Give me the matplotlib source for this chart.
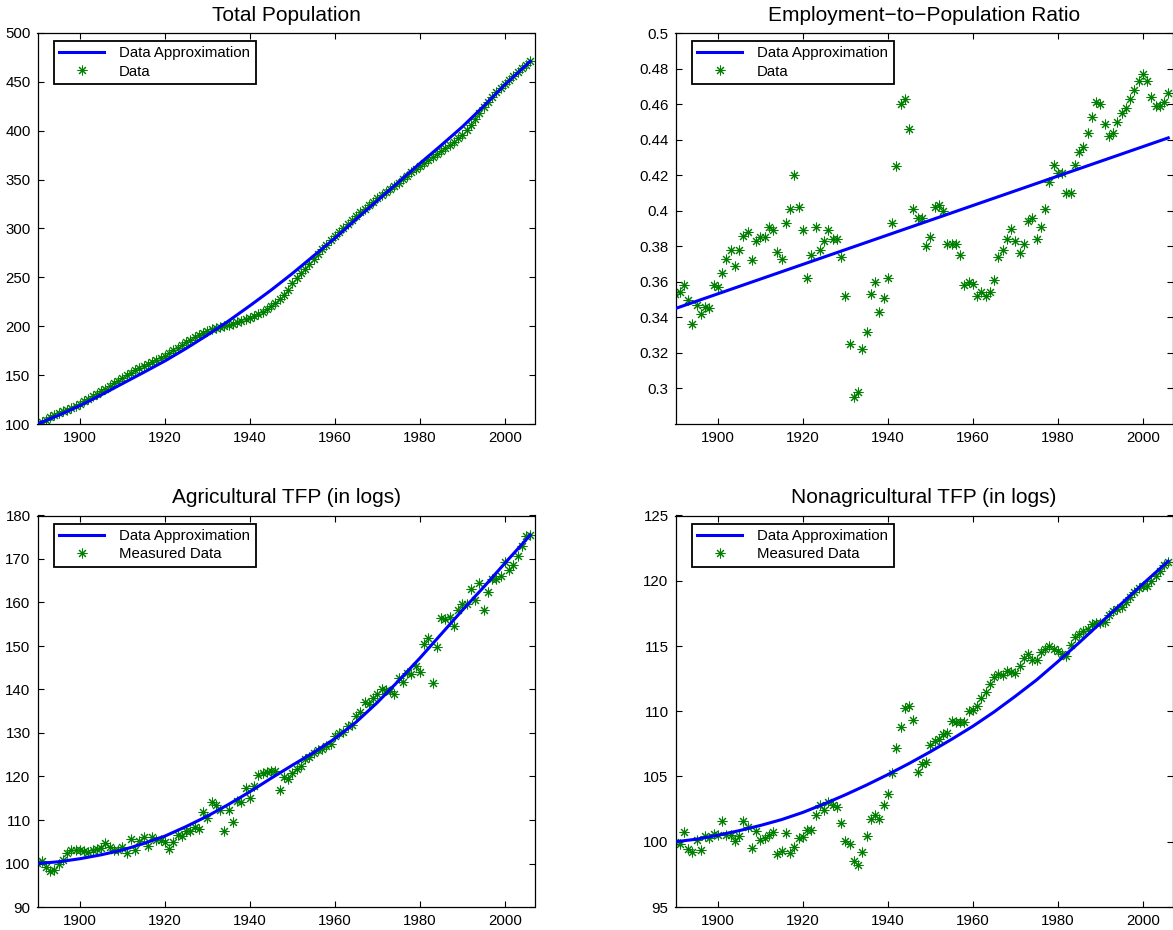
import numpy as np
import matplotlib
matplotlib.use("Agg")
import matplotlib.pyplot as plt
from matplotlib.lines import Line2D
from matplotlib.ticker import FormatStrFormatter

plt.rcParams['font.family'] = ['Liberation Sans', 'DejaVu Sans']

years = np.arange(1890, 2007)

# Total population (index, 1890 = 100)
pop_data = [
    100.0, 102.2, 104.6, 106.7, 108.7, 110.8, 112.9, 114.8, 116.8, 118.7,
    120.8, 123.2, 125.7, 128.3, 130.9, 133.6, 136.3, 139.0, 141.7, 144.4,
    147.0, 149.7, 152.3, 154.9, 157.4, 159.6, 161.6, 163.3, 165.1, 167.6,
    170.0, 172.6, 175.2, 178.0, 180.8, 183.6, 186.4, 189.0, 191.4, 193.6,
    195.6, 197.2, 198.5, 199.6, 200.5, 201.3, 202.2, 203.9, 205.6, 207.1,
    208.7, 210.3, 212.1, 214.5, 217.2, 220.5, 224.0, 227.8, 231.8, 237.0,
    244.0, 249.5, 254.0, 259.0, 264.0, 269.0, 274.0, 279.0, 283.5, 287.8,
    292.0, 296.3, 300.5, 304.8, 309.0, 313.0, 316.6, 320.4, 324.2, 327.6,
    330.8, 333.9, 337.0, 340.2, 343.5, 346.8, 350.2, 353.7, 357.3, 360.8,
    364.2, 367.3, 370.3, 373.2, 376.2, 379.2, 382.2, 385.5, 388.8, 392.2,
    395.7, 400.5, 406.1, 412.0, 418.0, 424.0, 429.9, 434.8, 439.5, 443.6,
    447.6, 451.8, 456.0, 460.0, 464.0, 467.7, 471.4,
]
pop_fit_years = [1890, 1895, 1900, 1905, 1910, 1915, 1920, 1925, 1930, 1935, 1940, 1945,
                 1950, 1955, 1960, 1965, 1970, 1975, 1980, 1985, 1990, 1995, 2000, 2006]
pop_fit = [100.0, 109.0, 118.8, 129.8, 141.3, 152.8, 164.5, 177.3, 191.0, 205.5, 221.0, 237.0,
           254.0, 272.0, 290.0, 309.5, 328.5, 347.5, 366.5, 385.0, 404.0, 425.0, 447.0, 471.0]

# Employment-to-population ratio
emp_data = [
    0.353, 0.354, 0.358, 0.350, 0.336, 0.347, 0.342, 0.346, 0.345, 0.358,
    0.357, 0.365, 0.373, 0.378, 0.369, 0.378, 0.386, 0.388, 0.372, 0.383,
    0.385, 0.385, 0.391, 0.389, 0.377, 0.373, 0.393, 0.401, 0.420, 0.402,
    0.389, 0.362, 0.375, 0.391, 0.378, 0.383, 0.389, 0.384, 0.384, 0.374,
    0.352, 0.325, 0.295, 0.298, 0.322, 0.332, 0.353, 0.360, 0.343, 0.351,
    0.362, 0.393, 0.425, 0.460, 0.463, 0.446, 0.401, 0.396, 0.396, 0.380,
    0.385, 0.402, 0.403, 0.400, 0.381, 0.381, 0.381, 0.375, 0.358, 0.360,
    0.359, 0.352, 0.354, 0.352, 0.354, 0.361, 0.374, 0.378, 0.384, 0.390,
    0.383, 0.376, 0.381, 0.394, 0.396, 0.384, 0.391, 0.401, 0.416, 0.426,
    0.421, 0.421, 0.410, 0.410, 0.426, 0.433, 0.436, 0.444, 0.453, 0.461,
    0.460, 0.449, 0.442, 0.444, 0.450, 0.455, 0.458, 0.463, 0.468, 0.473,
    0.477, 0.473, 0.464, 0.459, 0.459, 0.461, 0.466,
]
emp_fit_years = [1890, 2006]
emp_fit = [0.345, 0.441]

# Agricultural TFP (in logs)
ag_data = [
    100.1, 100.6, 99.2, 98.2, 98.4, 99.8, 100.9, 102.4, 103.0, 103.2,
    103.0, 102.9, 102.7, 103.0, 103.4, 103.6, 104.7, 103.7, 103.2, 103.2,
    103.8, 102.5, 105.7, 103.2, 105.2, 106.1, 104.0, 106.1, 105.5, 105.3,
    105.0, 103.4, 105.0, 106.5, 106.3, 107.4, 107.4, 108.3, 108.0, 111.9,
    110.5, 114.2, 113.4, 112.4, 107.4, 112.3, 109.5, 114.3, 114.2, 117.3,
    115.1, 117.8, 120.3, 120.7, 121.1, 121.3, 121.3, 116.9, 119.9, 119.5,
    120.9, 121.8, 122.3, 124.1, 124.4, 125.4, 126.1, 126.4, 127.1, 127.5,
    129.4, 130.0, 130.2, 131.5, 131.9, 134.0, 134.8, 137.1, 136.6, 138.1,
    138.9, 140.2, 139.9, 139.6, 138.9, 142.7, 141.7, 143.8, 143.5, 145.5,
    144.0, 150.4, 151.9, 141.5, 149.8, 156.5, 156.3, 156.7, 154.5, 158.2,
    159.7, 159.7, 163.2, 160.5, 164.5, 158.3, 162.4, 165.5, 165.5, 166.0,
    169.2, 167.5, 168.7, 170.7, 172.9, 175.2, 175.6,
]
ag_fit_years = pop_fit_years
ag_fit = [100.0, 100.4, 101.1, 102.0, 103.1, 104.6, 106.3, 108.5, 110.9, 113.6, 116.5, 119.6,
          122.6, 125.5, 128.7, 132.5, 137.0, 142.0, 147.2, 152.7, 158.2, 163.5, 169.0, 175.5]

# Nonagricultural TFP (in logs)
nonag_data = [
    100.0, 99.85, 100.74, 99.46, 99.2, 100.1, 99.34, 100.41, 100.3, 100.61,
    100.49, 101.58, 100.49, 100.49, 100.05, 100.41, 101.58, 101.12, 99.54, 100.79,
    100.15, 100.31, 100.49, 100.74, 99.03, 99.29, 100.66, 99.13, 99.59, 100.31,
    100.36, 100.87, 100.87, 102.07, 102.78, 102.4, 103.04, 102.78, 102.66, 101.43,
    100.05, 99.8, 98.52, 98.24, 99.21, 100.43, 101.76, 102.02, 101.76, 102.78,
    103.68, 105.26, 107.2, 108.83, 110.26, 110.44, 109.34, 105.34, 105.97, 106.1,
    107.38, 107.71, 107.89, 108.27, 108.32, 109.29, 109.17, 109.17, 109.17, 110.01,
    110.06, 110.37, 111.03, 111.46, 112.1, 112.61, 112.87, 112.74, 113.07, 112.99,
    112.92, 113.5, 114.09, 114.4, 113.89, 113.89, 114.53, 114.78, 114.99, 114.78,
    114.65, 114.4, 114.27, 115.11, 115.68, 115.93, 116.13, 116.31, 116.65, 116.75,
    116.75, 116.82, 117.41, 117.72, 117.85, 118.02, 118.36, 118.74, 119.12, 119.45,
    119.63, 119.63, 119.97, 120.4, 120.78, 121.24, 121.42,
]
nonag_fit_years = pop_fit_years
nonag_fit = [100.0, 100.2, 100.5, 100.85, 101.25, 101.7, 102.25, 102.9, 103.6, 104.35, 105.15, 106.0,
             106.9, 107.85, 108.85, 109.95, 111.15, 112.4, 113.8, 115.25, 116.75, 118.25, 119.75, 121.5]

GREEN = (0, 0.5, 0)
BLUE = (0, 0, 1)
AST = (8, 2, 0)

W, H = 1173, 930
fig = plt.figure(figsize=(W / 100, H / 100), dpi=100)

def px_axes(left, top, width, height):
    return fig.add_axes([left / W, (H - top - height) / H, width / W, height / H])

panels = [
    (px_axes(37.5, 33, 497, 391), 'Total Population', pop_data, pop_fit_years, pop_fit,
     'Data', (100, 500), np.arange(100, 501, 50)),
    (px_axes(675.5, 33, 497, 391), 'Employment\u2212to\u2212Population Ratio', emp_data,
     emp_fit_years, emp_fit, 'Data', (0.28, 0.5), np.arange(0.3, 0.501, 0.02)),
    (px_axes(37.5, 515.5, 497, 391.5), 'Agricultural TFP (in logs)', ag_data, ag_fit_years,
     ag_fit, 'Measured Data', (90, 180), np.arange(90, 181, 10)),
    (px_axes(675.5, 515.5, 497, 391.5), 'Nonagricultural TFP (in logs)', nonag_data,
     nonag_fit_years, nonag_fit, 'Measured Data', (95, 125), np.arange(95, 126, 5)),
]

for ax, title, data, fyears, fit, label, ylim, yticks in panels:
    ax.plot(fyears, fit, color=BLUE, lw=2.2, zorder=3)
    ax.plot(years, data, ls='none', marker=AST, ms=7, mec=GREEN, mew=0.75, zorder=2)
    ax.set_xlim(1890, 2007)
    ax.set_ylim(*ylim)
    ax.set_xticks(np.arange(1900, 2001, 20))
    ax.set_yticks(yticks)
    ax.yaxis.set_major_formatter(FormatStrFormatter('%g'))
    ax.tick_params(direction='in', top=True, right=True, length=4, width=0.8,
                   labelsize=10.8, pad=5)
    for sp in ax.spines.values():
        sp.set_linewidth(0.9)
        sp.set_color('k')
    ax.set_title(title, fontsize=15, pad=9)
    handles = [Line2D([], [], color=BLUE, lw=2.2),
               Line2D([], [], ls='none', marker=AST, ms=7, mec=GREEN, mew=0.75)]
    leg = ax.legend(handles, ['Data Approximation', label], loc='upper left',
                    bbox_to_anchor=(16.5 / 497, 1 - 8 / 391), borderaxespad=0,
                    fontsize=10.8, fancybox=False, framealpha=1, edgecolor='k',
                    handlelength=3.0, handletextpad=1.0, borderpad=0.35,
                    labelspacing=0.3)
    leg.get_frame().set_linewidth(1.3)

fig.savefig('out.png', dpi=100)
